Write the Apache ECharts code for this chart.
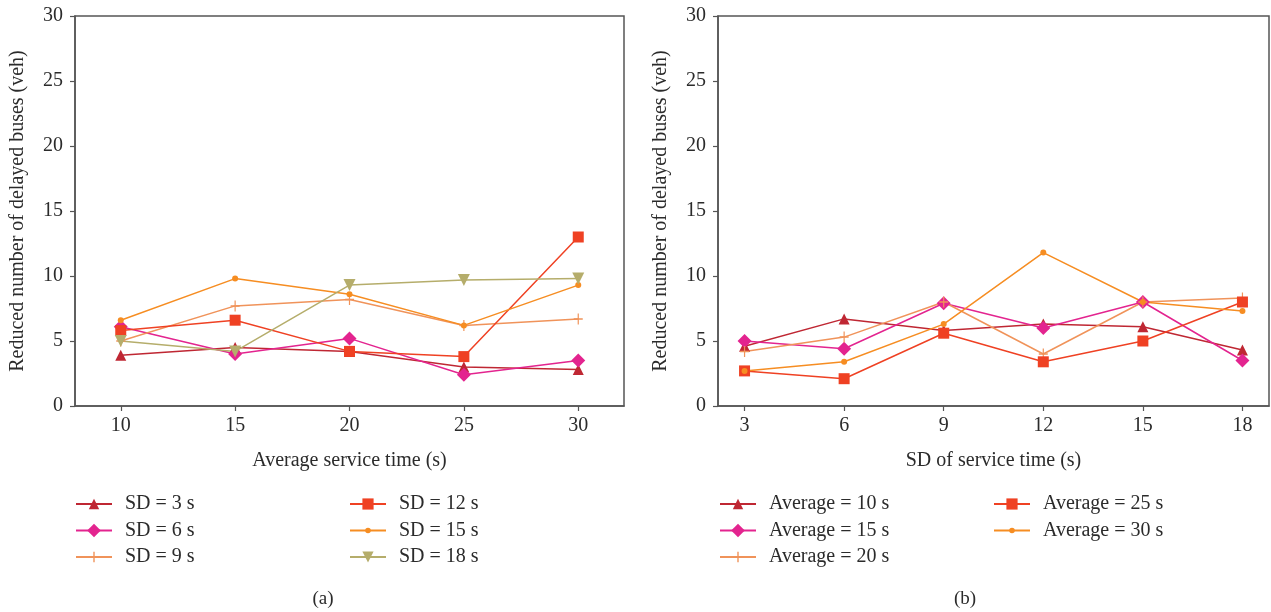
<!DOCTYPE html>
<html>
<head>
<meta charset="utf-8">
<script src="https://cdn.jsdelivr.net/npm/echarts@6/dist/echarts.min.js"></script>
<style>
  html, body { margin: 0; padding: 0; background: #ffffff; }
  #chart { width: 1271px; height: 612px; }
</style>
</head>
<body>
<div id="chart"></div>
<script>
// Panel (a): reduction vs. average service time, one line per SD
const avgTimes = [10, 15, 20, 25, 30];
const sdNames = ['SD = 3 s', 'SD = 6 s', 'SD = 9 s', 'SD = 12 s', 'SD = 15 s', 'SD = 18 s'];
const sd3  = [3.9, 4.5, 4.2, 3.0, 2.8];
const sd6  = [6.1, 4.0, 5.2, 2.4, 3.5];
const sd9  = [5.0, 7.7, 8.2, 6.2, 6.7];
const sd12 = [5.8, 6.6, 4.2, 3.8, 13.0];
const sd15 = [6.6, 9.8, 8.6, 6.2, 9.3];
const sd18 = [5.0, 4.2, 9.3, 9.7, 9.8];

// Panel (b): reduction vs. SD of service time, one line per average
const sdTimes = [3, 6, 9, 12, 15, 18];
const avgNames = ['Average = 10 s', 'Average = 15 s', 'Average = 20 s', 'Average = 25 s', 'Average = 30 s'];
const avg10 = [4.6, 6.7, 5.8, 6.3, 6.1, 4.3];
const avg15 = [5.0, 4.4, 7.9, 6.0, 8.0, 3.5];
const avg20 = [4.2, 5.3, 8.0, 4.0, 8.0, 8.3];
const avg25 = [2.7, 2.1, 5.6, 3.4, 5.0, 8.0];
const avg30 = [2.7, 3.4, 6.3, 11.8, 8.0, 7.3];

const yTicks = [0, 5, 10, 15, 20, 25, 30];
const yTitle = 'Reduced number of delayed buses (veh)';

const FONT = 'Liberation Serif';
const FS = 20;
const TEXT = '#2b2b2b';
const AXIS = '#555555';

const PLUS = 'path://M5.2,0H6.8V5.2H12V6.8H6.8V12H5.2V6.8H0V5.2H5.2Z';
// legendH: legend icon height (the marker in the key is drawn at 80% of it)
const looks = [
  { color: '#bf2733', symbol: 'triangle', size: 11, legendH: 13 },
  { color: '#e3248f', symbol: 'diamond', size: 14, legendH: 17 },
  { color: '#f0935a', symbol: PLUS, size: [9, 11], legendH: 13 },
  { color: '#ef4123', symbol: 'rect', size: 11, legendH: 14 },
  { color: '#f68d22', symbol: 'circle', size: 6, legendH: 7 },
  { color: '#b5ad6b', symbol: 'triangle', size: 12, rotate: 180, legendH: 14 }
];

const chart = echarts.init(document.getElementById('chart'), null, { renderer: 'canvas' });

function makeSeries(name, xs, ys, k, axisIdx) {
  const lk = looks[k];
  return {
    name: name,
    type: 'line',
    xAxisIndex: axisIdx,
    yAxisIndex: axisIdx,
    data: xs.map((x, i) => [x, ys[i]]),
    symbol: lk.symbol,
    symbolSize: lk.size,
    symbolRotate: lk.rotate || 0,
    symbolKeepAspect: false,
    showAllSymbol: true,
    lineStyle: { color: lk.color, width: 1.5 },
    itemStyle: { color: lk.color, borderWidth: 0 },
    emphasis: { disabled: true },
    animation: false
  };
}

const seriesA = [sd3, sd6, sd9, sd12, sd15, sd18].map((d, k) => makeSeries(sdNames[k], avgTimes, d, k, 0));
const seriesB = [avg10, avg15, avg20, avg25, avg30].map((d, k) => makeSeries(avgNames[k], sdTimes, d, k, 1));

function xAxis(gridIndex, min, max, ticks, name) {
  return {
    type: 'value', gridIndex, min, max,
    name, nameLocation: 'middle', nameGap: 45,
    nameTextStyle: { fontFamily: FONT, fontSize: FS, color: TEXT },
    axisLine: { show: true, onZero: false, lineStyle: { color: AXIS, width: 1.5 } },
    axisTick: { show: true, length: 5, customValues: ticks, lineStyle: { color: AXIS, width: 1.2 } },
    axisLabel: { customValues: ticks, margin: 10, fontFamily: FONT, fontSize: FS, color: TEXT },
    splitLine: { show: false }
  };
}
function yAxis(gridIndex) {
  return {
    type: 'value', gridIndex, min: 0, max: 30, interval: 5,
    name: yTitle, nameLocation: 'middle', nameGap: 47, nameRotate: 90,
    nameTextStyle: { fontFamily: FONT, fontSize: FS, color: TEXT },
    axisLine: { show: true, lineStyle: { color: AXIS, width: 1.5 } },
    axisTick: { show: true, length: 5, customValues: yTicks, lineStyle: { color: AXIS, width: 1.2 } },
    axisLabel: { customValues: yTicks, margin: 12, fontFamily: FONT, fontSize: FS, color: TEXT },
    splitLine: { show: false }
  };
}

// one legend entry per component so each row/column can be placed freely
const legends = [];
function addLegend(name, k, left, top) {
  legends.push({
    data: [name], left, top, padding: 0,
    itemWidth: 36, itemHeight: looks[k].legendH,
    selectedMode: false,
    textStyle: { fontFamily: FONT, fontSize: FS, color: TEXT, padding: [0, 0, 0, 8] }
  });
}
const rowTops = [494, 520.5, 547];
sdNames.forEach((n, i) => addLegend(n, i, i < 3 ? 75 : 349, rowTops[i % 3]));
avgNames.forEach((n, i) => addLegend(n, i, i < 3 ? 719 : 993, rowTops[i % 3]));

chart.setOption({
  backgroundColor: '#ffffff',
  animation: false,
  title: [
    { text: '(a)', left: 318, top: 585, textAlign: 'center', textStyle: { fontFamily: FONT, fontSize: 19, fontWeight: 'normal', color: TEXT } },
    { text: '(b)', left: 960, top: 585, textAlign: 'center', textStyle: { fontFamily: FONT, fontSize: 19, fontWeight: 'normal', color: TEXT } }
  ],
  grid: [
    { left: 75, top: 16, width: 549, height: 390, show: true, borderColor: AXIS, borderWidth: 1.5, backgroundColor: 'transparent' },
    { left: 718, top: 16, width: 551, height: 390, show: true, borderColor: AXIS, borderWidth: 1.5, backgroundColor: 'transparent' }
  ],
  xAxis: [
    xAxis(0, 8, 32, avgTimes, 'Average service time (s)'),
    xAxis(1, 2.2, 18.8, sdTimes, 'SD of service time (s)')
  ],
  yAxis: [yAxis(0), yAxis(1)],
  legend: legends,
  series: seriesA.concat(seriesB)
});
</script>
</body>
</html>
